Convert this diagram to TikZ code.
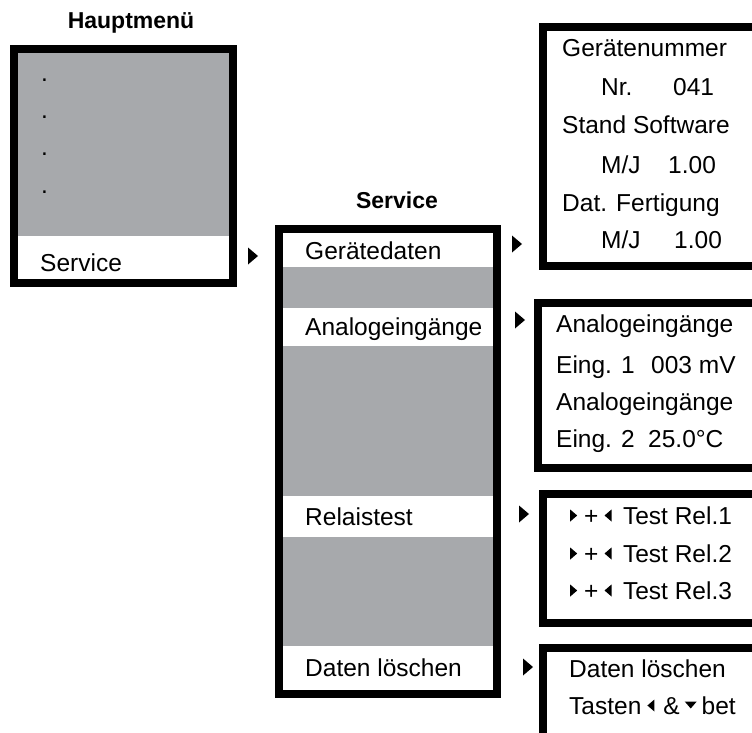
\documentclass[tikz,border=0pt]{standalone}
\usepackage{fontspec}
\setmainfont{Liberation Sans}
\definecolor{panelgray}{HTML}{A7A9AC}
\tikzset{
  frame/.style={draw=black, line width=8pt},
  txt/.style={anchor=base west, inner sep=0pt, font=\fontsize{24.5}{28}\selectfont},
  ttl/.style={anchor=base, inner sep=0pt, font=\bfseries\fontsize{23}{28}\selectfont},
  pointer/.style={fill=black},
}
\newcommand{\rtri}{\tikz[baseline=0pt,x=1pt,y=1pt]\fill (0,2.5) -- (7,8.5) -- (0,14.5) -- cycle;}
\newcommand{\ltri}{\tikz[baseline=0pt,x=1pt,y=1pt]\fill (7,2.5) -- (0,8.5) -- (7,14.5) -- cycle;}
\newcommand{\dtri}{\tikz[baseline=0pt,x=1pt,y=1pt]\fill (0,12.5) -- (12,12.5) -- (6,5.5) -- cycle;}
\newcommand{\relrow}[1]{\rtri\hspace{7pt}+\hspace{6pt}\ltri\hspace{11.5pt}Test Rel.#1}
\begin{document}
\begin{tikzpicture}[x=1pt,y=-1pt]
\useasboundingbox (0,0) rectangle (752,733);
\clip (0,0) rectangle (752,733);

% ---------- Hauptmenue ----------
\node[ttl] (tmain) at (131,29) {Hauptmenü};
\fill[panelgray] (17,53) rectangle (229,236);
\fill[white] (17,236) rectangle (229,279);
\draw[frame] (13.5,49.5) rectangle (233,283);
\node[txt] (d1) at (41,82) {.};
\node[txt] (d2) at (41,119) {.};
\node[txt] (d3) at (41,156) {.};
\node[txt] (d4) at (41,193) {.};
\node[txt] (mservice) at (40,271) {Service};
\fill[pointer] (248,247.5) -- (258,256) -- (248,264.5) -- cycle;

% ---------- Service menu ----------
\node[ttl] (tservice) at (397,208) {Service};
\fill[panelgray] (283,233) rectangle (493,690);
\fill[white] (283,233) rectangle (493,267);
\fill[white] (283,308) rectangle (493,346);
\fill[white] (283,496) rectangle (493,537);
\fill[white] (283,646) rectangle (493,690);
\draw[frame] (279,229) rectangle (497,694);
\node[txt] (sgeraet) at (305,259) {Gerätedaten};
\node[txt] (sanalog) at (305,335) {Analogeingänge};
\node[txt] (srelais) at (305,525) {Relaistest};
\node[txt] (sdaten) at (305,676) {Daten löschen};
\fill[pointer] (512,235.5) -- (522,244) -- (512,252.5) -- cycle;
\fill[pointer] (515,311.5) -- (525,320) -- (515,328.5) -- cycle;
\fill[pointer] (519,505.5) -- (529,514) -- (519,522.5) -- cycle;
\fill[pointer] (523,658.5) -- (533,667) -- (523,675.5) -- cycle;

% ---------- Geraetedaten ----------
\draw[frame] (543,27.5) rectangle (790,266);
\node[txt] (g1) at (562,57) {Gerätenummer};
\node[txt] (g2a) at (601,96) {Nr.};
\node[txt] (g2b) at (673,96) {041};
\node[txt] (g3) at (562,134) {Stand Software};
\node[txt] (g4a) at (601,173) {M/J};
\node[txt] (g4b) at (668,173) {1.00};
\node[txt] (g5) at (562,211) {Dat. Fertigung};
\node[txt] (g6a) at (601,248) {M/J};
\node[txt] (g6b) at (674,248) {1.00};

% ---------- Analogeingaenge ----------
\draw[frame] (537.5,302.5) rectangle (790,467.5);
\node[txt] (a1) at (556,332) {Analogeingänge};
\node[txt] (a2a) at (556,373) {Eing. 1};
\node[txt] (a2b) at (651,373) {003 mV};
\node[txt] (a3) at (556,410) {Analogeingänge};
\node[txt] (a4a) at (556,447) {Eing. 2};
\node[txt] (a4b) at (648,447) {25.0°C};

% ---------- Relaistest ----------
\draw[frame] (542.5,494) rectangle (790,622.5);
\node[txt] (r1) at (570,524) {\relrow{1}};
\node[txt] (r2) at (570,562) {\relrow{2}};
\node[txt] (r3) at (570,599) {\relrow{3}};

% ---------- Daten loeschen ----------
\draw[frame] (542.5,647.5) rectangle (790,780);
\node[txt] (l1) at (569,677) {Daten löschen};
\node[txt] (l2) at (569,714) {Tasten\hspace{6pt}\ltri\hspace{9pt}\&\hspace{5pt}\dtri\hspace{5pt}bet};
\end{tikzpicture}
\end{document}
